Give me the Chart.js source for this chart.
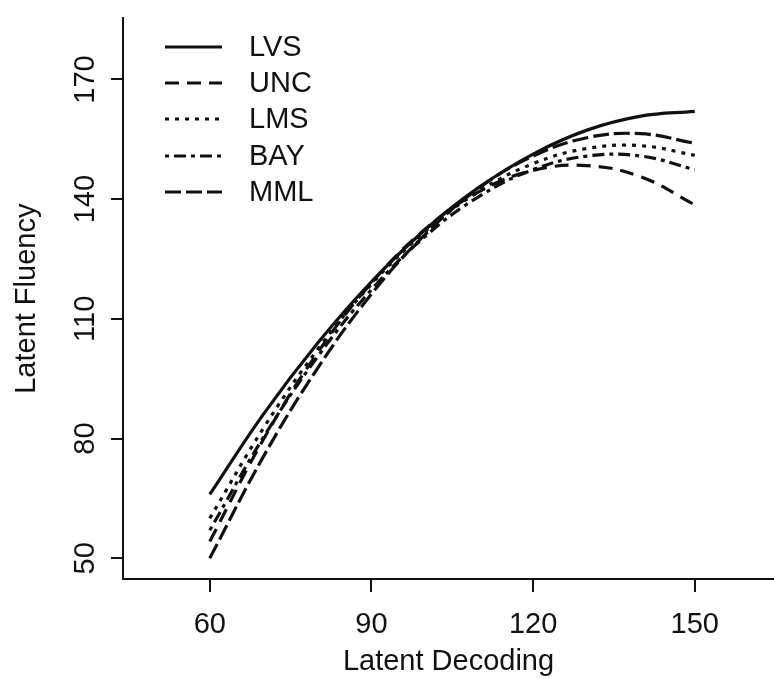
<!DOCTYPE html>
<html>
<head>
<meta charset="utf-8">
<script src="https://cdn.jsdelivr.net/npm/chart.js@4"></script>
<style>
  html, body { margin: 0; padding: 0; background: #fff; }
  #wrap { width: 774px; height: 679px; }
</style>
</head>
<body>
<div id="wrap"><canvas id="myChart" width="774" height="679"></canvas></div>
<script>
// values
const decoding = [60, 70, 80, 90, 100, 110, 120, 130, 140, 150];
const lvs = [66.0, 86.2, 103.9, 119.3, 132.4, 143.0, 151.3, 157.3, 160.8, 162.0];
const unc = [54.2, 79.9, 101.5, 119.0, 132.5, 141.9, 147.2, 148.4, 145.6, 138.6];
const lms = [60.0, 82.7, 102.3, 118.7, 131.9, 142.0, 148.9, 152.7, 153.4, 151.0];
const bay = [57.0, 80.4, 100.5, 117.3, 130.7, 140.7, 147.4, 150.8, 150.8, 147.4];
const mml = [50.0, 75.6, 97.6, 116.2, 131.2, 142.8, 150.8, 155.4, 156.4, 154.0];

const xTicks = [60, 90, 120, 150];
const yTicks = [50, 80, 110, 140, 170];

const FONT = '"Liberation Sans", Arial, Helvetica, sans-serif';
const INK = '#111';

function series(label, values, dash) {
  return {
    label: label,
    data: decoding.map((x, i) => ({ x: x, y: values[i] })),
    borderColor: INK,
    borderWidth: 3.2,
    borderDash: dash,
    pointRadius: 0,
    fill: false,
    tension: 0.4
  };
}

const datasets = [
  series('LVS', lvs, []),
  series('UNC', unc, [14, 8]),
  series('LMS', lms, [4, 6]),
  series('BAY', bay, [4, 5, 12, 5]),
  series('MML', mml, [16, 5])
];

// legend drawn inside the plot, top left
const legendRows = [47, 83, 119, 156, 192];
const insideLegend = {
  id: 'insideLegend',
  afterDraw(chart) {
    const ctx = chart.ctx;
    ctx.save();
    chart.data.datasets.forEach((ds, i) => {
      const y = legendRows[i];
      ctx.strokeStyle = ds.borderColor;
      ctx.lineWidth = 3.2;
      ctx.setLineDash(ds.borderDash);
      ctx.beginPath();
      ctx.moveTo(165, y);
      ctx.lineTo(222, y);
      ctx.stroke();
      ctx.setLineDash([]);
      ctx.fillStyle = INK;
      ctx.font = '29px ' + FONT;
      ctx.textBaseline = 'middle';
      ctx.textAlign = 'left';
      ctx.fillText(ds.label, 249, y + 1);
    });
    ctx.restore();
  }
};

const config = {
  type: 'line',
  data: { datasets: datasets },
  options: {
    responsive: false,
    animation: false,
    layout: { padding: { top: 10, right: 0, left: 0, bottom: 0 } },
    plugins: { legend: { display: false }, tooltip: { enabled: false } },
    scales: {
      x: {
        type: 'linear',
        min: 43.9,
        max: 164.7,
        afterBuildTicks: (s) => { s.ticks = xTicks.map(v => ({ value: v })); },
        afterFit: (s) => { s.height = 100; },
        border: { display: true, color: INK, width: 2 },
        grid: { display: true, drawOnChartArea: false, drawTicks: true, tickLength: 13, color: INK, lineWidth: 2 },
        ticks: { color: INK, padding: 16, font: { family: FONT, size: 29 }, maxRotation: 0, minRotation: 0 },
        title: { display: true, text: 'Latent Decoding', color: INK, font: { family: FONT, size: 29 }, padding: { top: 0, bottom: 0 } }
      },
      y: {
        type: 'linear',
        min: 44.8,
        max: 185.3,
        afterBuildTicks: (s) => { s.ticks = yTicks.map(v => ({ value: v })); },
        afterFit: (s) => { s.width = 123; },
        border: { display: true, color: INK, width: 2 },
        grid: { display: true, drawOnChartArea: false, drawTicks: true, tickLength: 12, color: INK, lineWidth: 2 },
        ticks: { color: INK, padding: 1, crossAlign: 'center', minRotation: 90, maxRotation: 90, font: { family: FONT, size: 29 } },
        title: { display: true, text: 'Latent Fluency', color: INK, font: { family: FONT, size: 29 }, padding: { top: 10, bottom: 0 } }
      }
    }
  },
  plugins: [insideLegend]
};

const myChart = new Chart(document.getElementById('myChart'), config);
</script>
</body>
</html>
